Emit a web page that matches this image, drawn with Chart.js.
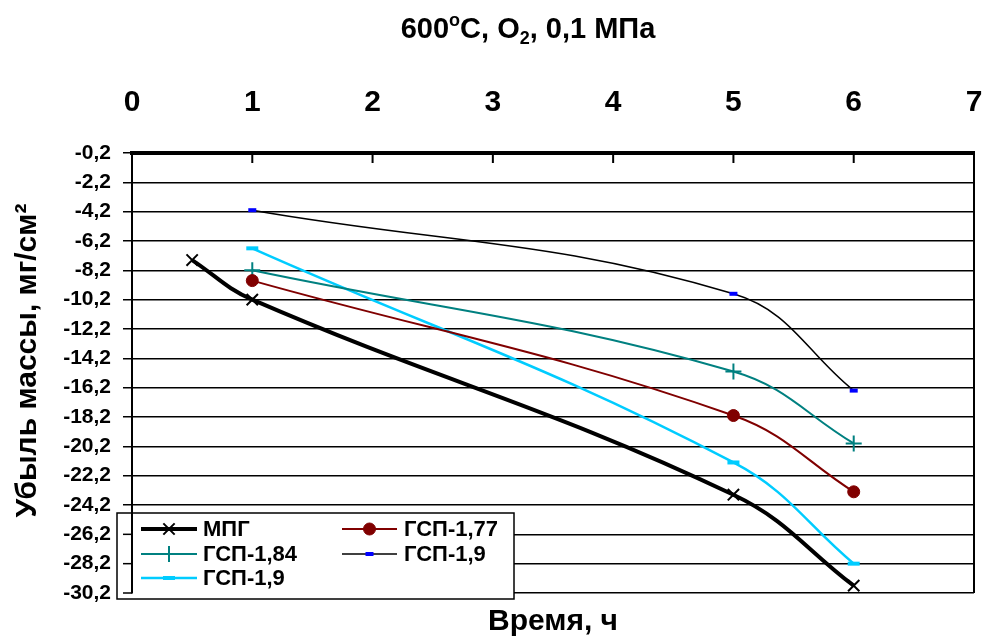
<!DOCTYPE html>
<html>
<head>
<meta charset="utf-8">
<script src="https://cdn.jsdelivr.net/npm/chart.js@4/dist/chart.umd.min.js"></script>
<style>
  body { margin: 0; background: #fff; }
</style>
</head>
<body>
<canvas id="massLossChart" width="987" height="644"></canvas>
<script>
const FONT = "'Liberation Sans', Arial, sans-serif";

// data
const xTicks = [0, 1, 2, 3, 4, 5, 6, 7];
const yTicks = [-0.2, -2.2, -4.2, -6.2, -8.2, -10.2, -12.2, -14.2, -16.2, -18.2, -20.2, -22.2, -24.2, -26.2, -28.2, -30.2];

const mpgTimes = [0.5, 1, 5, 6];
const mpgLoss = [-7.5, -10.2, -23.5, -29.7];

const gspTimes = [1, 5, 6];
const gsp177Loss = [-8.9, -18.1, -23.3];
const gsp184Loss = [-8.2, -15.1, -20.0];
const gsp19BlackLoss = [-4.1, -9.8, -16.4];
const gsp19CyanLoss = [-6.7, -21.3, -28.2];

const seriesNames = ['МПГ', 'ГСП-1,77', 'ГСП-1,84', 'ГСП-1,9', 'ГСП-1,9'];

function toPoints(xs, ys) {
    return xs.map((x, i) => ({x: x, y: ys[i]}));
}

function formatComma(v) {
    return (Math.round(v * 10) / 10).toFixed(1).replace('.', ',');
}

// no extra edge padding from tick labels, keeps plot area where it is
function noEdgePadding(scale) {
    scale.paddingLeft = 0;
    scale.paddingRight = 0;
    scale.paddingTop = 0;
    scale.paddingBottom = 0;
}

// title with superscript / subscript parts
const titlePlugin = {
    id: 'titleText',
    afterDraw(chart) {
        const ctx = chart.ctx;
        const parts = [
            {t: '600', size: 29, dy: 0},
            {t: 'o', size: 18, dy: -12},
            {t: 'C, O', size: 29, dy: 0},
            {t: '2', size: 18, dy: 6},
            {t: ', 0,1 МПа', size: 29, dy: 0}
        ];
        ctx.save();
        ctx.fillStyle = '#000';
        ctx.textBaseline = 'alphabetic';
        let total = 0;
        parts.forEach(p => {
            ctx.font = 'bold ' + p.size + 'px ' + FONT;
            p.w = ctx.measureText(p.t).width;
            total += p.w;
        });
        let x = 528 - total / 2;
        parts.forEach(p => {
            ctx.font = 'bold ' + p.size + 'px ' + FONT;
            ctx.fillText(p.t, x, 38 + p.dy);
            x += p.w;
        });
        ctx.restore();
    }
};

// inward ticks on top axis, right frame line
const framePlugin = {
    id: 'frame',
    beforeDatasetsDraw(chart) {
        const ctx = chart.ctx;
        const area = chart.chartArea;
        const xScale = chart.scales.x;
        ctx.save();
        ctx.strokeStyle = '#000';
        ctx.lineWidth = 2;
        xTicks.forEach(v => {
            const px = xScale.getPixelForValue(v);
            ctx.beginPath();
            ctx.moveTo(px, area.top);
            ctx.lineTo(px, area.top + 10);
            ctx.stroke();
        });
        ctx.beginPath();
        ctx.moveTo(area.right, area.top);
        ctx.lineTo(area.right, area.bottom);
        ctx.stroke();
        ctx.restore();
    }
};

// legend box in lower left corner, y axis border is drawn above it (border.z)
const legendPlugin = {
    id: 'boxLegend',
    afterDatasetsDraw(chart) {
        const ctx = chart.ctx;
        const yScale = chart.scales.y;
        const box = {left: 117, top: 513, right: 514, bottom: 599};
        const slots = [
            {x1: 141, x2: 197, tx: 203, y: 529},
            {x1: 342, x2: 397, tx: 404, y: 529},
            {x1: 141, x2: 197, tx: 203, y: 554},
            {x1: 342, x2: 397, tx: 404, y: 554},
            {x1: 141, x2: 197, tx: 203, y: 578}
        ];
        ctx.save();
        ctx.fillStyle = '#fff';
        ctx.fillRect(box.left, box.top, box.right - box.left, box.bottom - box.top);
        ctx.strokeStyle = '#000';
        ctx.lineWidth = 1.5;
        ctx.strokeRect(box.left, box.top, box.right - box.left, box.bottom - box.top);
        // y tick marks stay visible through the box
        ctx.lineWidth = 1.5;
        yTicks.forEach(v => {
            const py = yScale.getPixelForValue(v);
            if (py > box.top && py < box.bottom) {
                ctx.beginPath();
                ctx.moveTo(yScale.right - 9, py);
                ctx.lineTo(yScale.right, py);
                ctx.stroke();
            }
        });
        chart.data.datasets.forEach((ds, i) => {
            const s = slots[i];
            ctx.strokeStyle = ds.borderColor;
            ctx.lineWidth = ds.borderWidth;
            ctx.beginPath();
            ctx.moveTo(s.x1, s.y);
            ctx.lineTo(s.x2, s.y);
            ctx.stroke();
            ctx.fillStyle = ds.pointBackgroundColor;
            ctx.strokeStyle = ds.pointBorderColor;
            ctx.lineWidth = ds.pointBorderWidth;
            Chart.helpers.drawPoint(ctx, {
                pointStyle: ds.pointStyle,
                radius: ds.pointRadius,
                borderWidth: ds.pointBorderWidth,
                rotation: 0
            }, (s.x1 + s.x2) / 2, s.y);
            ctx.fillStyle = '#000';
            ctx.font = 'bold 22px ' + FONT;
            ctx.textBaseline = 'middle';
            ctx.fillText(ds.label, s.tx, s.y + 1);
        });
        ctx.restore();
    }
};

const chartCanvas = document.querySelector('#massLossChart');
const massLossChart = new Chart(chartCanvas, {
    type: 'line',
    data: {
        datasets: [
            {
                label: seriesNames[0],
                data: toPoints(mpgTimes, mpgLoss),
                borderColor: '#000000',
                borderWidth: 4,
                pointStyle: 'crossRot',
                pointRadius: 8,
                pointBorderWidth: 2,
                pointBorderColor: '#000000',
                pointBackgroundColor: '#000000'
            },
            {
                label: seriesNames[1],
                data: toPoints(gspTimes, gsp177Loss),
                borderColor: '#800000',
                borderWidth: 2,
                pointStyle: 'circle',
                pointRadius: 6,
                pointBorderWidth: 1,
                pointBorderColor: '#800000',
                pointBackgroundColor: '#800000'
            },
            {
                label: seriesNames[2],
                data: toPoints(gspTimes, gsp184Loss),
                borderColor: '#008080',
                borderWidth: 2,
                pointStyle: 'cross',
                pointRadius: 8,
                pointBorderWidth: 2,
                pointBorderColor: '#008080',
                pointBackgroundColor: '#008080'
            },
            {
                label: seriesNames[3],
                data: toPoints(gspTimes, gsp19BlackLoss),
                borderColor: '#000000',
                borderWidth: 1.5,
                pointStyle: 'line',
                pointRadius: 4,
                pointBorderWidth: 4,
                pointBorderColor: '#0000ff',
                pointBackgroundColor: '#0000ff'
            },
            {
                label: seriesNames[4],
                data: toPoints(gspTimes, gsp19CyanLoss),
                borderColor: '#00ccff',
                borderWidth: 2.5,
                pointStyle: 'line',
                pointRadius: 6,
                pointBorderWidth: 4,
                pointBorderColor: '#00ccff',
                pointBackgroundColor: '#00ccff'
            }
        ]
    },
    options: {
        responsive: false,
        animation: false,
        tension: 0.4,
        layout: {padding: {left: 0, right: 13, top: 0, bottom: 0}},
        plugins: {
            legend: {display: false},
            title: {display: false},
            tooltip: {enabled: false}
        },
        scales: {
            x: {
                type: 'linear',
                position: 'top',
                min: 0,
                max: 7,
                afterBuildTicks: scale => { scale.ticks = xTicks.map(v => ({value: v})); },
                afterFit: scale => { scale.height = 153; noEdgePadding(scale); },
                grid: {display: false},
                border: {display: true, color: '#000', width: 4},
                ticks: {
                    color: '#000',
                    padding: 24,
                    maxRotation: 0,
                    autoSkip: false,
                    font: {family: FONT, size: 30, weight: 'bold'}
                }
            },
            x2: {
                type: 'linear',
                position: 'bottom',
                min: 0,
                max: 7,
                afterFit: scale => { scale.height = 51; noEdgePadding(scale); },
                grid: {display: false},
                border: {display: false},
                ticks: {display: false},
                title: {
                    display: true,
                    text: 'Время, ч',
                    color: '#000',
                    padding: {top: 0, bottom: 4},
                    font: {family: FONT, size: 30, weight: 'bold'}
                }
            },
            y: {
                type: 'linear',
                min: -30.2,
                max: -0.2,
                afterBuildTicks: scale => { scale.ticks = yTicks.map(v => ({value: v})); },
                afterFit: scale => { scale.width = 132; noEdgePadding(scale); },
                grid: {color: '#000', lineWidth: 1.5, tickLength: 9, drawTicks: true},
                border: {display: true, color: '#000', width: 2, z: 1},
                ticks: {
                    color: '#000',
                    padding: 12,
                    autoSkip: false,
                    font: {family: FONT, size: 21, weight: 'bold'},
                    callback: v => formatComma(v)
                },
                title: {
                    display: true,
                    text: '\u00A0\u00A0\u00A0Убыль массы, мг/см²',
                    color: '#000',
                    padding: {top: 10, bottom: 0},
                    font: {family: FONT, size: 30, weight: 'bold'}
                }
            }
        }
    },
    plugins: [titlePlugin, framePlugin, legendPlugin]
});
</script>
</body>
</html>
